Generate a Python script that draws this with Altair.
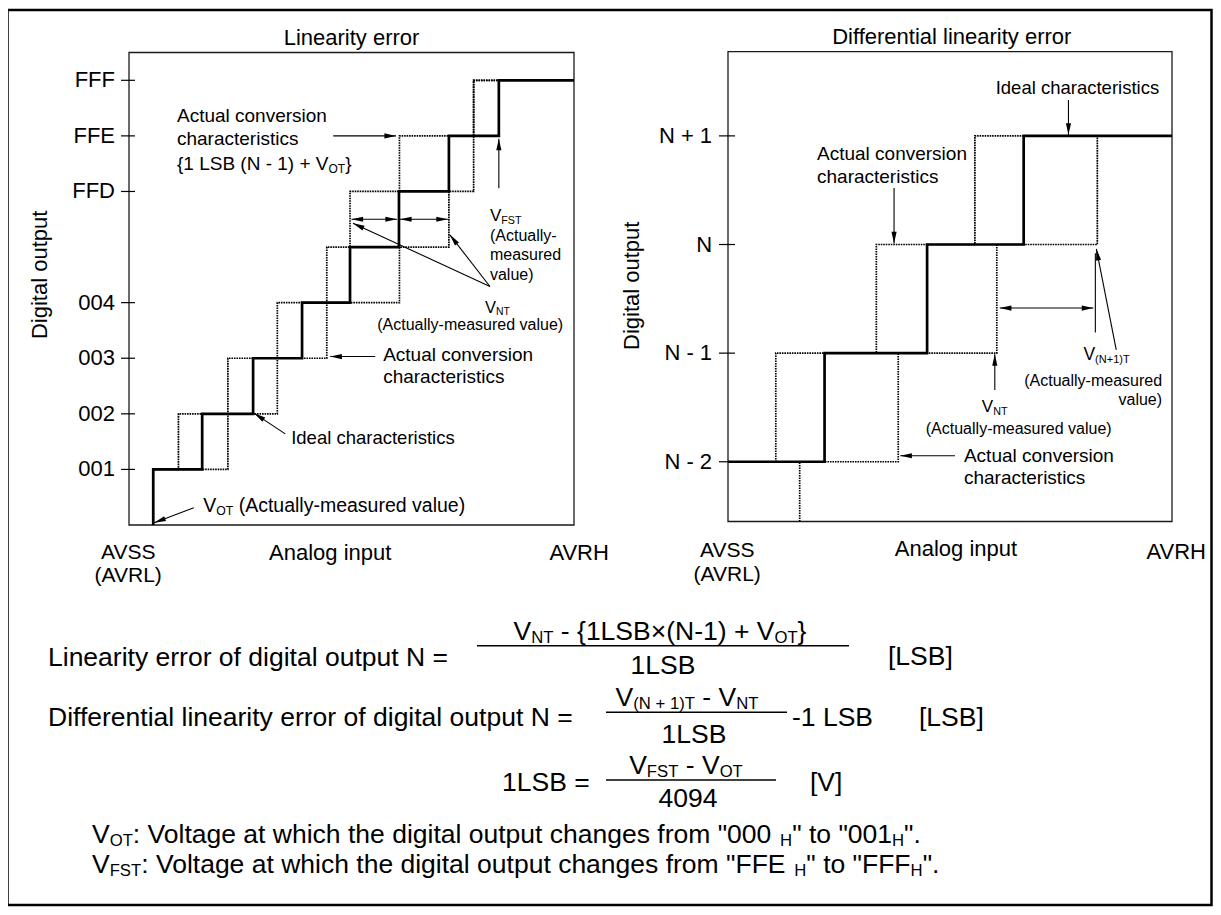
import math
import altair as alt
import pandas as pd

FONT = "Liberation Sans"

# ---------------- data ----------------
# Left panel: analog input in LSB units, digital output level index
L_LEVELS = [1, 2, 3, 4, 5, 6, 7, 8]
L_IDEAL_T = [0.49, 1.48, 2.51, 3.50, 4.47, 5.46, 6.47, 7.48]
L_EARLY_T = [0.49, 1.00, 2.00, 3.00, 4.00, 4.47, 5.47, 6.97]
L_LATE_T = [0.49, 2.00, 3.00, 4.00, 5.47, 6.47, 6.97, 6.97]
L_TICK_LEVELS = [1, 2, 3, 4, 6, 7, 8]
L_TICK_LABELS = ["001", "002", "003", "004", "FFD", "FFE", "FFF"]
L_XMAX, L_YMAX = 9.0, 8.5

# Right panel: levels 0..3 = N-2 .. N+1
R_LEVELS = [1, 2, 3]
R_IDEAL_T = [0.97, 2.00, 2.97]
R_EARLY_T = [0.48, 1.49, 2.48]
R_LATE_LEVELS = [0, 1, 2, 3]
R_LATE_T = [0.72, 1.71, 2.70, 3.71]
R_TICK_LEVELS = [0, 1, 2, 3]
R_TICK_LABELS = ["N - 2", "N - 1", "N", "N + 1"]
R_XMAX, R_YMIN, R_YMAX = 4.46, -0.55, 3.775

# ---------------- layout (page pixels) ----------------
OFF = 13  # page pixel of the plot origin (8px margin + 5px padding)
LP = dict(px0=129, px1=574, py0=525, py1=52.5, dom_x=(0, L_XMAX), dom_y=(0, L_YMAX))
RP = dict(px0=728, px1=1172, py0=521.5, py1=51.7, dom_x=(0, R_XMAX), dom_y=(R_YMIN, R_YMAX))

# Arial / Liberation Sans advance widths
W = {}
for ch, w in zip("ABCDEFGHIJKLMNOPQRSTUVWXYZ",
                 [667, 667, 722, 722, 667, 611, 778, 722, 278, 500, 667, 556, 833,
                  722, 778, 667, 778, 722, 667, 611, 722, 667, 944, 667, 667, 611]):
    W[ch] = w
for ch, w in zip("abcdefghijklmnopqrstuvwxyz",
                 [556, 556, 500, 556, 556, 278, 556, 556, 222, 222, 500, 222, 833,
                  556, 556, 556, 556, 333, 500, 278, 556, 500, 722, 500, 500, 500]):
    W[ch] = w
for ch in "0123456789":
    W[ch] = 556
W.update({" ": 278, '"': 355, "(": 333, ")": 333, "+": 584, ",": 278, "-": 333,
          ".": 278, ":": 278, "=": 584, "[": 278, "]": 278, "{": 334, "}": 334, "×": 584})


def tw(s, size):
    return sum(W.get(c, 556) for c in s) * size / 1000.0


SUB = 0.63
SUB_DROP = 0.24


def place(spec, ppx, ppy):
    pieces, x, y, size, align = spec
    items = []
    for p in pieces:
        if isinstance(p, tuple):
            items.append((p[1], size * SUB, True))
        else:
            items.append((p, size, False))
    total = sum(tw(t, s) for t, s, _ in items)
    cur = -{"left": 0, "center": total / 2, "right": total}[align]
    rows = []
    for t, s, sub in items:
        lead = len(t) - len(t.lstrip(" "))
        xpx = cur + tw(" " * lead, s)
        dy = SUB_DROP * size if sub else 0.0
        rows.append(dict(x=x + xpx / ppx, y=y - dy / ppy, text=t.strip(), size=s))
        cur += tw(t, s)
    return rows


def steps(start, trans, levels, end_x, name):
    pts = [start]
    y = start[1]
    for tx, lv in zip(trans, levels):
        pts.append((tx, y))
        pts.append((tx, lv))
        y = lv
    pts.append((end_x, y))
    return [dict(x=a, y=b, i=k, curve=name) for k, (a, b) in enumerate(pts)]


HEAD = "M0,0L-0.42,1.9L0.42,1.9Z"


def arrow_tables(arrs, ppx, ppy):
    def ang(xa, ya, xb, yb):
        dx = (xb - xa) * ppx
        dys = -(yb - ya) * ppy
        return math.degrees(math.atan2(dx, -dys)) % 360

    lines, heads = [], []
    for x1, y1, x2, y2, kind in arrs:
        lines.append(dict(x=x1, y=y1, x2=x2, y2=y2))
        if kind in ("end", "both"):
            heads.append(dict(x=x2, y=y2, angle=ang(x1, y1, x2, y2)))
        if kind == "both":
            heads.append(dict(x=x1, y=y1, angle=ang(x2, y2, x1, y1)))
    return pd.DataFrame(lines), pd.DataFrame(heads)


def scales(P):
    xs = alt.Scale(domain=list(P["dom_x"]), range=[P["px0"] - OFF, P["px1"] - OFF], zero=False, nice=False)
    ys = alt.Scale(domain=list(P["dom_y"]), range=[P["py0"] - OFF, P["py1"] - OFF], zero=False, nice=False)
    ppx = (P["px1"] - P["px0"]) / (P["dom_x"][1] - P["dom_x"][0])
    ppy = (P["py0"] - P["py1"]) / (P["dom_y"][1] - P["dom_y"][0])
    return xs, ys, ppx, ppy


def X(f, s):
    return alt.X(f + ":Q", scale=s, axis=None)


def Y(f, s):
    return alt.Y(f + ":Q", scale=s, axis=None)


def panel(P, ideal, dotted, tick_levels, tick_labels, tick_span, label_x, texts, arrows, rot):
    xs, ys, ppx, ppy = scales(P)
    box = pd.DataFrame([dict(x=P["dom_x"][0], x2=P["dom_x"][1], y=P["dom_y"][0], y2=P["dom_y"][1])])
    box_l = alt.Chart(box).mark_rect(fillOpacity=0, stroke="#1a1a1a", strokeWidth=1.3).encode(
        x=X("x", xs), x2="x2", y=Y("y", ys), y2="y2")
    ideal_l = alt.Chart(pd.DataFrame(ideal)).mark_line(
        color="black", strokeWidth=2.7, strokeJoin="miter").encode(
        x=X("x", xs), y=Y("y", ys), order="i:Q")
    dot_l = alt.Chart(pd.DataFrame(dotted)).mark_line(
        color="black", strokeWidth=1.7, strokeDash=[1.6, 0.9]).encode(
        x=X("x", xs), y=Y("y", ys), order="i:Q", detail="curve:N")
    tk = pd.DataFrame(dict(lv=tick_levels, a=tick_span[0] / ppx, b=tick_span[1] / ppx))
    tick_l = alt.Chart(tk).mark_rule(color="black", strokeWidth=1.2).encode(
        x=X("a", xs), x2="b", y=Y("lv", ys))
    rows = []
    for lv, lab in zip(tick_levels, tick_labels):
        rows += place(([lab], label_x, lv, 22, "right"), ppx, ppy)
    for spec in texts:
        rows += place(spec, ppx, ppy)
    text_l = alt.Chart(pd.DataFrame(rows)).mark_text(
        align="left", baseline="middle", font=FONT, color="black").encode(
        x=X("x", xs), y=Y("y", ys), text="text:N", size=alt.Size("size:Q", scale=None))
    rot_l = alt.Chart(pd.DataFrame([dict(x=rot[0], y=rot[1], text="Digital output")])).mark_text(
        angle=270, align="center", baseline="middle", font=FONT, fontSize=22, color="black").encode(
        x=X("x", xs), y=Y("y", ys), text="text:N")
    lines, heads = arrow_tables(arrows, ppx, ppy)
    arr_l = alt.Chart(lines).mark_rule(color="black", strokeWidth=1.1).encode(
        x=X("x", xs), y=Y("y", ys), x2="x2", y2="y2")
    head_l = alt.Chart(heads).mark_point(
        shape=HEAD, filled=True, color="black", opacity=1, size=150, strokeWidth=0).encode(
        x=X("x", xs), y=Y("y", ys), angle=alt.Angle("angle:Q", scale=None))
    return alt.layer(box_l, dot_l, ideal_l, tick_l, arr_l, head_l, text_l, rot_l)


# ---------------- left panel ----------------
L_IDEAL = steps((L_IDEAL_T[0], 0), L_IDEAL_T, L_LEVELS, L_XMAX, "ideal")
L_DOTTED = (steps((L_EARLY_T[0], 0), L_EARLY_T, L_LEVELS, L_IDEAL_T[-1], "early")
            + steps((L_LATE_T[0], 0), L_LATE_T, L_LEVELS, L_IDEAL_T[-1], "late"))
L_TEXTS = [
    (["Actual conversion"], 0.97, 7.36, 19, "left"),
    (["characteristics"], 0.97, 6.94, 19, "left"),
    (["{1 LSB (N - 1) + V", ("s", "OT"), "}"], 0.97, 6.49, 19, "left"),
    (["V", ("s", "FST")], 7.30, 5.55, 17, "left"),
    (["(Actually-"], 7.30, 5.20, 16, "left"),
    (["measured"], 7.30, 4.86, 16, "left"),
    (["value)"], 7.30, 4.50, 16, "left"),
    (["V", ("s", "NT")], 7.20, 3.90, 16.5, "left"),
    (["(Actually-measured value)"], 6.90, 3.59, 16, "center"),
    (["Actual conversion"], 5.14, 3.06, 19, "left"),
    (["characteristics"], 5.14, 2.66, 19, "left"),
    (["Ideal characteristics"], 3.28, 1.56, 18.5, "left"),
    (["V", ("s", "OT"), " (Actually-measured value)"], 1.50, 0.34, 19.5, "left"),
    (["Linearity error"], 4.50, 8.76, 22, "center"),
    (["AVSS"], 0.0, -0.50, 21, "center"),
    (["(AVRL)"], 0.0, -0.92, 21, "center"),
    (["Analog input"], 4.07, -0.50, 22, "center"),
    (["AVRH"], 9.12, -0.50, 22, "center"),
]
L_ARROWS = [
    (4.13, 7.00, 5.40, 7.00, "end"),
    (7.48, 6.06, 7.48, 6.95, "end"),
    (4.50, 5.50, 5.42, 5.50, "both"),
    (5.48, 5.50, 6.45, 5.50, "both"),
    (7.30, 4.29, 4.53, 5.43, "end"),
    (7.30, 4.29, 6.49, 5.22, "end"),
    (4.98, 3.03, 4.07, 3.03, "end"),
    (3.16, 1.64, 2.53, 2.01, "end"),
    (1.31, 0.31, 0.51, 0.04, "end"),
]
left = panel(LP, L_IDEAL, L_DOTTED, L_TICK_LEVELS, L_TICK_LABELS, (-8, 6), -0.283,
             L_TEXTS, L_ARROWS, (-1.80, 4.50))

# ---------------- right panel ----------------
R_IDEAL = steps((0, 0), R_IDEAL_T, R_LEVELS, R_XMAX, "ideal")
R_DOTTED = (steps((0, 0), R_EARLY_T, R_LEVELS, R_IDEAL_T[-1], "early")
            + steps((R_LATE_T[0], R_YMIN), R_LATE_T, R_LATE_LEVELS, R_XMAX, "late"))
R_TEXTS = [
    (["Differential linearity error"], 2.25, 3.908, 22, "center"),
    (["Ideal characteristics"], 3.51, 3.44, 18.5, "center"),
    (["Actual conversion"], 0.894, 2.83, 19, "left"),
    (["characteristics"], 0.894, 2.62, 19, "left"),
    (["V", ("s", "(N+1)T")], 3.57, 0.98, 17.5, "left"),
    (["(Actually-measured"], 4.36, 0.743, 16, "right"),
    (["value)"], 4.36, 0.568, 16, "right"),
    (["V", ("s", "NT")], 2.55, 0.50, 17, "left"),
    (["(Actually-measured value)"], 2.92, 0.305, 16, "center"),
    (["Actual conversion"], 2.37, 0.055, 19, "left"),
    (["characteristics"], 2.37, -0.15, 19, "left"),
    (["AVSS"], 0.0, -0.825, 21, "center"),
    (["(AVRL)"], 0.0, -1.04, 21, "center"),
    (["Analog input"], 2.29, -0.80, 22, "center"),
    (["AVRH"], 4.51, -0.83, 22, "center"),
]
R_ARROWS = [
    (3.42, 3.33, 3.42, 3.01, "end"),
    (1.668, 2.52, 1.668, 2.01, "end"),
    (2.73, 1.415, 3.67, 1.415, "both"),
    (3.69, 1.92, 3.69, 1.19, "none"),
    (3.90, 1.03, 3.70, 1.96, "end"),
    (2.68, 0.66, 2.68, 0.99, "end"),
    (2.28, 0.055, 1.73, 0.055, "end"),
]
right = panel(RP, R_IDEAL, R_DOTTED, R_TICK_LEVELS, R_TICK_LABELS, (-9, 7), -0.16,
              R_TEXTS, R_ARROWS, (-0.965, 1.62))

# ---------------- formulas (page pixels) ----------------
F_TEXTS = [
    (["Linearity error of digital output N ="], 48, 658, 26.5, "left"),
    (["V", ("s", "NT"), " - {1LSB×(N-1) + V", ("s", "OT"), "}"], 660, 632, 26.5, "center"),
    (["1LSB"], 663, 666, 26.5, "center"),
    (["[LSB]"], 888, 657, 26.5, "left"),
    (["Differential linearity error of digital output N ="], 48, 718, 26.5, "left"),
    (["V", ("s", "(N + 1)T"), " - V", ("s", "NT")], 687, 698, 26.5, "center"),
    (["1LSB"], 694, 735, 26.5, "center"),
    (["-1 LSB"], 792, 718, 26.5, "left"),
    (["[LSB]"], 919, 718, 26.5, "left"),
    (["1LSB ="], 502, 783, 26.5, "left"),
    (["V", ("s", "FST"), " - V", ("s", "OT")], 686, 766, 26.5, "center"),
    (["4094"], 688, 799, 26.5, "center"),
    (["[V]"], 810, 783, 26.5, "left"),
    (["V", ("s", "OT"), ': Voltage at which the digital output changes from "000 ', ("s", "H"),
      '" to "001', ("s", "H"), '".'], 92, 835, 26.5, "left"),
    (["V", ("s", "FST"), ': Voltage at which the digital output changes from "FFE ', ("s", "H"),
      '" to "FFF', ("s", "H"), '".'], 92, 865, 26.5, "left"),
]
F_BARS = [(477, 849, 645.7), (606, 787, 712.3), (606, 776, 780.0)]
FRAME = (7.5, 1211.5, 10, 905)

pxs = alt.Scale(domain=[0, 1221], range=[-OFF, 1221 - OFF], zero=False, nice=False)
pys = alt.Scale(domain=[0, 915], range=[-OFF, 915 - OFF], zero=False, nice=False)
frows = []
for spec in F_TEXTS:
    frows += place(spec, 1.0, -1.0)
ftext = alt.Chart(pd.DataFrame(frows)).mark_text(
    align="left", baseline="middle", font=FONT, color="black").encode(
    x=X("x", pxs), y=Y("y", pys), text="text:N", size=alt.Size("size:Q", scale=None))
fbars = alt.Chart(pd.DataFrame(F_BARS, columns=["x", "x2", "y"])).mark_rule(
    color="black", strokeWidth=1.6).encode(x=X("x", pxs), x2="x2", y=Y("y", pys))
frame = alt.Chart(pd.DataFrame([dict(x=FRAME[0], x2=FRAME[1], y=FRAME[2], y2=FRAME[3])])).mark_rect(
    fillOpacity=0, stroke="black", strokeWidth=2.5).encode(
    x=X("x", pxs), x2="x2", y=Y("y", pys), y2="y2")
page = alt.layer(frame, fbars, ftext)

chart = alt.layer(page, left, right).resolve_scale(
    x="independent", y="independent"
).properties(
    width=1221 - 16 - 10, height=915 - 16 - 10, padding=5,
    autosize=alt.AutoSizeParams(type="none"), background="white"
).configure_view(stroke=None)

chart.save("out.html", embed_options={"renderer": "svg", "actions": False})
